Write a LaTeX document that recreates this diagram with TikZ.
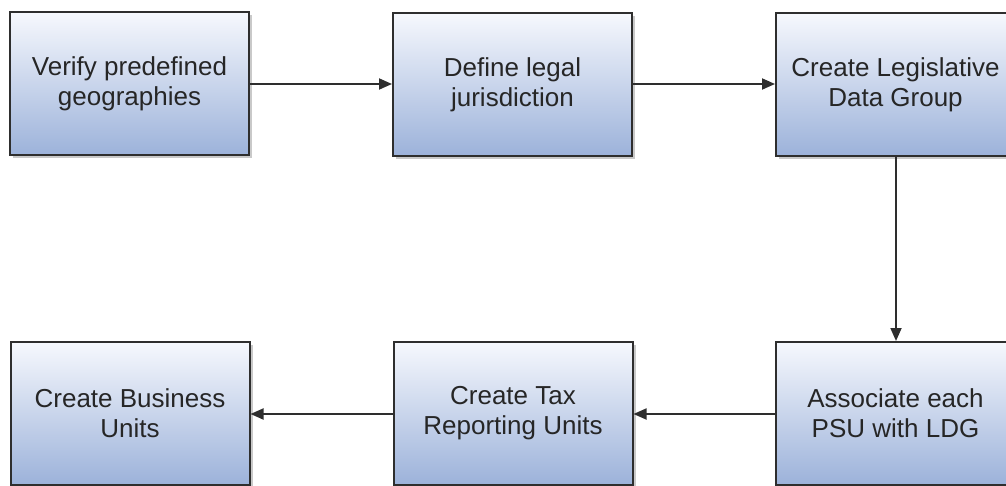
\documentclass[tikz,border=0pt]{standalone}
\usepackage{fontspec}
\setmainfont{Liberation Sans}
\usetikzlibrary{arrows.meta,shadows}
\definecolor{boxtop}{HTML}{F6F8FD}
\definecolor{boxbot}{HTML}{9CB2DA}
\definecolor{edge}{HTML}{2E2E2E}
\tikzset{
  stepbox/.style={draw=edge, line width=2pt, minimum width=239pt, minimum height=143pt,
    top color=boxtop, bottom color=boxbot, align=center, inner sep=0pt,
    font=\fontsize{26pt}{30pt}\selectfont, text=black!85,
    drop shadow={shadow xshift=3pt, shadow yshift=-3pt, fill=black!35, opacity=0.6}},
  flow/.style={draw=edge, line width=1.8pt, -{Triangle[length=13pt,width=11pt]}}
}
\begin{document}
\begin{tikzpicture}[x=1pt,y=1pt]
\useasboundingbox (0,0) rectangle (1006,485);
\clip (0,0) rectangle (1006,485);
\fill[white] (0,0) rectangle (1006,485);
% upper row
\node[stepbox] (geo) at (129.5,401) {Verify predefined\\geographies};
\node[stepbox] (jur) at (512.5,400.5) {Define legal\\jurisdiction};
\node[stepbox] (ldg) at (895.5,400.5) {Create Legislative\\Data Group};
% lower row
\node[stepbox] (bu)  at (130,71.5) {Create Business\\Units};
\node[stepbox] (tru) at (513,71.5) {Create Tax\\Reporting Units};
\node[stepbox] (psu) at (895.5,71.5) {Associate each\\PSU with LDG};
% connectors
\draw[flow] (geo.east |- 0,401) -- (jur.west |- 0,401);
\draw[flow] (jur.east |- 0,401) -- (ldg.west |- 0,401);
\draw[flow] (ldg.south -| 896,0) -- (psu.north -| 896,0);
\draw[flow] (psu.west |- 0,71) -- (tru.east |- 0,71);
\draw[flow] (tru.west |- 0,71) -- (bu.east |- 0,71);
\end{tikzpicture}
\end{document}
